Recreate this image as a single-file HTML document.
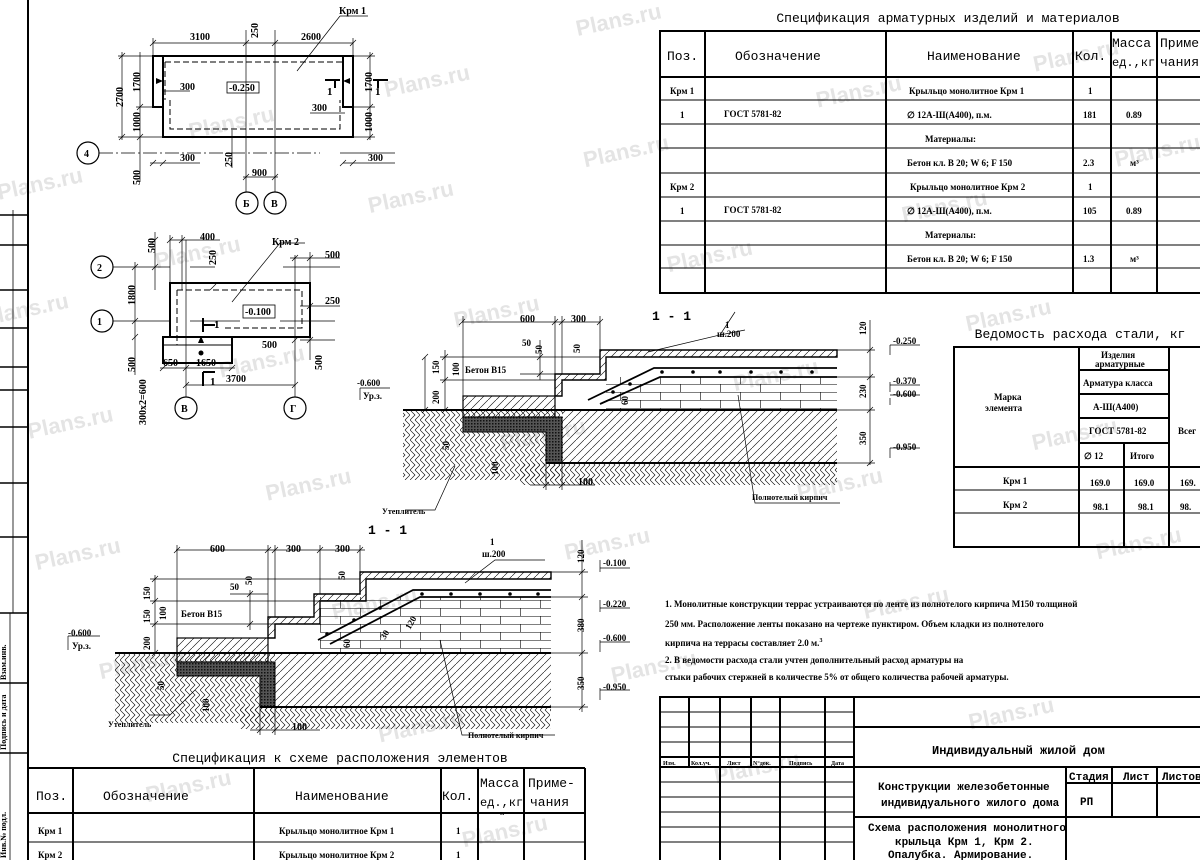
<!DOCTYPE html>
<html><head><meta charset="utf-8"><style>
html,body{margin:0;padding:0;background:#fff;width:1200px;height:860px;overflow:hidden;}
svg{display:block;}
.t{font-family:"Liberation Serif","DejaVu Serif",serif;font-weight:bold;fill:#000;}
.m{font-family:"Liberation Mono","DejaVu Sans Mono",monospace;fill:#000;}
.wm{font-family:"Liberation Sans",sans-serif;font-weight:bold;fill:#e4e4e4;font-size:22px;}
</style></head><body>
<svg width="1200" height="860" viewBox="0 0 1200 860" xmlns="http://www.w3.org/2000/svg">
<defs>
<pattern id="diag" width="8" height="8" patternUnits="userSpaceOnUse"><path d="M0,8 L8,0" stroke="#000" stroke-width="0.6"/></pattern>
<pattern id="ground" width="10" height="10" patternUnits="userSpaceOnUse"><path d="M0,10 L5,5 L0,0 M5,10 L10,5 L5,0" stroke="#000" stroke-width="0.6" fill="none"/></pattern>
<pattern id="dark" width="3" height="3" patternUnits="userSpaceOnUse"><rect width="3" height="3" fill="#555"/><rect width="1.5" height="1.5" fill="#111"/></pattern>
<pattern id="brick" width="40" height="16" patternUnits="userSpaceOnUse"><path d="M0,0.5 H40 M0,8.5 H40 M0.5,0 V8 M20.5,8 V16" stroke="#000" stroke-width="0.6" fill="none"/></pattern>
</defs>

<!-- watermarks -->
<g transform="rotate(-12 600 430)">
<text class="wm" x="60" y="80">Plans.ru</text><text class="wm" x="260" y="60">Plans.ru</text><text class="wm" x="460" y="60">Plans.ru</text><text class="wm" x="660" y="40">Plans.ru</text><text class="wm" x="900" y="40">Plans.ru</text><text class="wm" x="1120" y="40">Plans.ru</text>
<text class="wm" x="20" y="200">Plans.ru</text><text class="wm" x="200" y="180">Plans.ru</text><text class="wm" x="420" y="170">Plans.ru</text><text class="wm" x="640" y="170">Plans.ru</text><text class="wm" x="880" y="160">Plans.ru</text><text class="wm" x="1100" y="170">Plans.ru</text>
<text class="wm" x="40" y="320">Plans.ru</text><text class="wm" x="240" y="300">Plans.ru</text><text class="wm" x="480" y="300">Plans.ru</text><text class="wm" x="700" y="290">Plans.ru</text><text class="wm" x="940" y="290">Plans.ru</text><text class="wm" x="1160" y="280">Plans.ru</text>
<text class="wm" x="20" y="450">Plans.ru</text><text class="wm" x="260" y="430">Plans.ru</text><text class="wm" x="500" y="430">Plans.ru</text><text class="wm" x="740" y="420">Plans.ru</text><text class="wm" x="980" y="410">Plans.ru</text>
<text class="wm" x="60" y="570">Plans.ru</text><text class="wm" x="300" y="560">Plans.ru</text><text class="wm" x="540" y="550">Plans.ru</text><text class="wm" x="780" y="540">Plans.ru</text><text class="wm" x="1020" y="540">Plans.ru</text>
<text class="wm" x="80" y="700">Plans.ru</text><text class="wm" x="320" y="690">Plans.ru</text><text class="wm" x="560" y="680">Plans.ru</text><text class="wm" x="820" y="670">Plans.ru</text><text class="wm" x="1060" y="660">Plans.ru</text>
<text class="wm" x="120" y="820">Plans.ru</text><text class="wm" x="380" y="810">Plans.ru</text><text class="wm" x="640" y="800">Plans.ru</text><text class="wm" x="900" y="800">Plans.ru</text><text class="wm" x="1140" y="790">Plans.ru</text>
</g>

<!-- left frame / stamp -->
<g stroke="#000" fill="none">
<line x1="28" y1="0" x2="28" y2="860" stroke-width="2"/>
<line x1="13" y1="210" x2="13" y2="613" stroke-width="0.8"/>
<line x1="10" y1="613" x2="10" y2="860" stroke-width="0.8"/>
<g stroke-width="1.6">
<line x1="0" y1="215" x2="28" y2="215"/><line x1="0" y1="245" x2="28" y2="245"/><line x1="0" y1="290" x2="28" y2="290"/><line x1="0" y1="328" x2="28" y2="328"/><line x1="0" y1="367" x2="28" y2="367"/><line x1="0" y1="390" x2="28" y2="390"/><line x1="0" y1="427" x2="28" y2="427"/><line x1="0" y1="483" x2="28" y2="483"/><line x1="0" y1="537" x2="28" y2="537"/><line x1="0" y1="613" x2="28" y2="613"/><line x1="0" y1="683" x2="28" y2="683"/><line x1="0" y1="753" x2="28" y2="753"/>
</g></g>
<text class="t" font-size="8" transform="translate(6,680) rotate(-90)">Взам.инв.</text>
<text class="t" font-size="8" transform="translate(6,750) rotate(-90)">Подпись и дата</text>
<text class="t" font-size="8" transform="translate(6,858) rotate(-90)">Инв.№ подл.</text>

<!-- ================= PLAN 1 ================= -->
<g stroke="#000" fill="none">
<path d="M153,56 H353 V137 H163 V56" stroke-width="2"/>
<rect x="153" y="56" width="10" height="51" stroke-width="2"/>
<rect x="343" y="56" width="10" height="51" stroke-width="2"/>
<path d="M165,62 H343 M170,100 V129 H340 V100 M165,62 V100" stroke-dasharray="6,3" stroke-width="1"/>
<g stroke-width="0.7">
<line x1="153" y1="43" x2="353" y2="43"/><line x1="153" y1="38" x2="153" y2="56"/><line x1="246" y1="30" x2="246" y2="192"/><line x1="275" y1="30" x2="275" y2="192"/><line x1="353" y1="38" x2="353" y2="56"/>
<line x1="122" y1="52" x2="122" y2="140"/><line x1="118" y1="56" x2="153" y2="56"/><line x1="118" y1="137" x2="163" y2="137"/>
<line x1="140" y1="52" x2="140" y2="182"/><line x1="136" y1="107" x2="153" y2="107"/>
<line x1="370" y1="52" x2="370" y2="140"/><line x1="353" y1="107" x2="375" y2="107"/><line x1="353" y1="56" x2="375" y2="56"/><line x1="353" y1="137" x2="375" y2="137"/>
<line x1="99" y1="153" x2="320" y2="153" stroke-dasharray="14,3,2,3"/><line x1="340" y1="153" x2="395" y2="153"/>
<line x1="150" y1="163" x2="200" y2="163"/><line x1="343" y1="163" x2="395" y2="163"/>
<line x1="232" y1="130" x2="232" y2="168"/>
<line x1="243" y1="177" x2="278" y2="177"/>
<line x1="162" y1="91" x2="190" y2="91"/><line x1="310" y1="113" x2="345" y2="113"/>
<line x1="297" y1="71" x2="340" y2="16"/><line x1="340" y1="16" x2="368" y2="16"/>
<path d="M150,46 L156,40 M243,46 L249,40 M272,46 L278,40 M350,46 L356,40 M119,59 L125,53 M119,140 L125,134 M137,110 L143,104 M137,140 L143,134 M367,59 L373,53 M367,110 L373,104 M367,140 L373,134 M150,166 L156,160 M160,166 L166,160 M340,166 L346,160 M350,166 L356,160 M243,180 L249,174 M272,180 L278,174"/>
</g>
<circle cx="88" cy="153" r="11" stroke-width="1.2"/><circle cx="247" cy="203" r="11" stroke-width="1.2"/><circle cx="275" cy="203" r="11" stroke-width="1.2"/>
<rect x="227" y="82" width="32" height="11" stroke-width="0.8"/>
<path d="M325,80 H340 M335,80 V88 M373,80 H388 M378,80 V88" stroke-width="2"/>
</g>
<polygon points="156,78 163,81 156,84" fill="#000"/><polygon points="350,78 343,81 350,84" fill="#000"/>
<g class="t" font-size="10">
<text x="339" y="14">Крм 1</text><text x="190" y="40">3100</text><text x="301" y="40">2600</text>
<text x="229" y="91">-0.250</text><text x="180" y="90">300</text><text x="312" y="111">300</text>
<text x="180" y="161">300</text><text x="368" y="161">300</text><text x="252" y="176">900</text>
<text x="84" y="157">4</text><text x="243" y="207">Б</text><text x="271" y="207">В</text>
<text x="327" y="95" font-size="11">1</text><text x="375" y="95" font-size="11">1</text>
<text transform="translate(123,107) rotate(-90)">2700</text>
<text transform="translate(140,92) rotate(-90)">1700</text><text transform="translate(140,132) rotate(-90)">1000</text>
<text transform="translate(372,92) rotate(-90)">1700</text><text transform="translate(372,132) rotate(-90)">1000</text>
<text transform="translate(258,38) rotate(-90)">250</text><text transform="translate(232,167) rotate(-90)">250</text>
<text transform="translate(140,185) rotate(-90)">500</text>
</g>

<!-- ================= PLAN 2 ================= -->
<g stroke="#000" fill="none">
<rect x="170" y="283" width="140" height="54" stroke-width="2"/>
<rect x="163" y="337" width="69" height="26" stroke-width="2"/>
<line x1="163" y1="345" x2="232" y2="345" stroke-width="1"/>
<path d="M177,290 H302 V328 H225 M177,290 V345" stroke-dasharray="6,3" stroke-width="1"/>
<rect x="243" y="305" width="32" height="13" stroke-width="0.8"/>
<g stroke-width="0.7">
<line x1="113" y1="267" x2="170" y2="267"/><line x1="190" y1="267" x2="215" y2="267"/><line x1="283" y1="267" x2="340" y2="267"/>
<line x1="113" y1="321" x2="170" y2="321"/><line x1="190" y1="321" x2="240" y2="321"/><line x1="280" y1="321" x2="335" y2="321"/>
<line x1="186" y1="240" x2="186" y2="397"/><line x1="295" y1="255" x2="295" y2="397"/>
<line x1="135" y1="262" x2="135" y2="375"/><line x1="155" y1="232" x2="155" y2="290"/>
<line x1="170" y1="240" x2="220" y2="240"/><line x1="170" y1="235" x2="170" y2="283"/><line x1="182" y1="235" x2="182" y2="290"/>
<line x1="290" y1="258" x2="340" y2="258"/><line x1="310" y1="252" x2="310" y2="360"/>
<line x1="300" y1="306" x2="340" y2="306"/><line x1="300" y1="340" x2="335" y2="340"/>
<line x1="160" y1="368" x2="235" y2="368"/><line x1="186" y1="385" x2="295" y2="385"/>
<line x1="232" y1="302" x2="280" y2="243"/><line x1="280" y1="243" x2="305" y2="243"/>
<path d="M132,270 L138,264 M132,324 L138,318 M132,340 L138,334 M152,270 L158,264 M152,243 L158,237 M167,243 L173,237 M179,243 L185,237 M292,261 L298,255 M307,261 L313,255 M307,309 L313,303 M292,343 L298,337 M307,343 L313,337 M160,371 L166,365 M183,371 L189,365 M229,371 L235,365 M183,388 L189,382 M292,388 L298,382 M210,290 L216,284"/>
</g>
<circle cx="102" cy="267" r="11" stroke-width="1.2"/><circle cx="102" cy="321" r="11" stroke-width="1.2"/>
<circle cx="186" cy="408" r="11" stroke-width="1.2"/><circle cx="295" cy="408" r="11" stroke-width="1.2"/>
<path d="M203,318 V332 M203,325 H215 M203,372 V386 M203,372 H215" stroke-width="2"/>
</g>
<polygon points="198,343 201,336 204,343" fill="#000"/><circle cx="201" cy="353" r="2.5" fill="#000"/>
<g class="t" font-size="10">
<text x="200" y="240">400</text><text x="272" y="245">Крм 2</text><text x="325" y="258">500</text><text x="325" y="304">250</text>
<text x="245" y="315">-0.100</text><text x="262" y="348">500</text><text x="163" y="366">650</text><text x="196" y="366">1650</text><text x="226" y="382">3700</text>
<text x="97" y="271">2</text><text x="97" y="325">1</text><text x="181" y="412">В</text><text x="290" y="412">Г</text>
<text x="214" y="328" font-size="11">1</text><text x="210" y="385" font-size="11">1</text>
<text transform="translate(155,253) rotate(-90)">500</text><text transform="translate(216,265) rotate(-90)">250</text>
<text transform="translate(135,305) rotate(-90)">1800</text><text transform="translate(135,372) rotate(-90)">500</text>
<text transform="translate(322,370) rotate(-90)">500</text><text transform="translate(146,425) rotate(-90)">300x2=600</text>
</g>

<!-- ================= SECTION 1-1 (upper) ================= -->
<g stroke="#000">
<rect x="403" y="410" width="160" height="70" fill="url(#ground)" stroke="none"/>
<rect x="520" y="463" width="317" height="22" fill="url(#ground)" stroke="none"/>
<rect x="562" y="410" width="275" height="53" fill="url(#diag)" stroke="none"/>
<rect x="463" y="396" width="92" height="21" fill="url(#diag)" stroke-width="1.2"/>
<path d="M463,417 H562 V463 H546 V432 H463 Z" fill="url(#dark)" stroke-width="1"/>
<rect x="606" y="377" width="231" height="33" fill="url(#brick)" stroke="none"/>
<path d="M555,396 V374 H600 V350 H837 V357 H606 V380 H562 V396 Z" fill="url(#diag)" stroke-width="1.4"/>
<line x1="403" y1="410" x2="837" y2="410" stroke-width="2"/>
<line x1="546" y1="463" x2="837" y2="463" stroke-width="2"/>
<path d="M588,400 L654,368 H837 M600,404 L660,377 H837" fill="none" stroke-width="1.8"/>
<g fill="#000" stroke="none"><circle cx="662" cy="372" r="1.8"/><circle cx="693" cy="372" r="1.8"/><circle cx="720" cy="372" r="1.8"/><circle cx="751" cy="372" r="1.8"/><circle cx="781" cy="372" r="1.8"/><circle cx="812" cy="372" r="1.8"/><circle cx="613" cy="392" r="1.8"/><circle cx="630" cy="384" r="1.8"/></g>
<g fill="none" stroke-width="0.7">
<line x1="462" y1="322" x2="562" y2="322"/><line x1="562" y1="322" x2="600" y2="322"/><line x1="463" y1="316" x2="463" y2="396"/><line x1="555" y1="316" x2="555" y2="374"/><line x1="562" y1="316" x2="562" y2="374"/><line x1="600" y1="316" x2="600" y2="350"/>
<line x1="440" y1="357" x2="600" y2="357"/><line x1="440" y1="380" x2="555" y2="380"/><line x1="440" y1="410" x2="460" y2="410"/>
<line x1="445" y1="350" x2="445" y2="410"/><line x1="425" y1="357" x2="425" y2="410"/>
<line x1="520" y1="374" x2="555" y2="374"/><line x1="540" y1="340" x2="540" y2="380"/>
<line x1="870" y1="320" x2="870" y2="465"/><line x1="837" y1="350" x2="875" y2="350"/><line x1="837" y1="377" x2="875" y2="377"/><line x1="837" y1="410" x2="875" y2="410"/><line x1="837" y1="463" x2="875" y2="463"/>
<line x1="546" y1="463" x2="546" y2="490"/><line x1="562" y1="463" x2="562" y2="490"/><line x1="530" y1="485" x2="595" y2="485"/>
<path d="M890,345 V355 M890,345 H920 M890,382 V392 M890,385 H920 M890,398 V405 M890,395 H920 M890,448 V458 M890,448 H920 M360,388 V400 M360,388 H390"/>
<path d="M459,325 L465,319 M552,325 L558,319 M559,325 L565,319 M597,325 L603,319 M442,360 L448,354 M442,383 L448,377 M442,413 L448,407 M422,360 L428,354 M422,413 L428,407 M867,353 L873,347 M867,380 L873,374 M867,413 L873,407 M867,466 L873,460 M543,488 L549,482 M559,488 L565,482 M537,377 L543,371 M537,360 L543,354"/>
<path d="M455,466 L435,510 H405 M738,395 L755,503 H840 M648,352 L720,335 L735,312 M720,335 L745,330"/>
</g></g>
<g class="t" font-size="9">
<text x="520" y="322" font-size="10">600</text><text x="571" y="322" font-size="10">300</text>
<text x="652" y="320" class="m" font-size="13" font-weight="bold">1 - 1</text>
<text x="725" y="328">1</text><text x="717" y="337">ш.200</text>
<text x="465" y="373">Бетон В15</text><text x="522" y="346">50</text>
<text x="357" y="386">-0.600</text><text x="363" y="399">Ур.з.</text>
<text x="382" y="514" font-size="8">Утеплитель</text><text x="752" y="500" font-size="8">Полнотелый кирпич</text>
<text x="578" y="485" font-size="10">100</text>
<text x="893" y="344">-0.250</text><text x="893" y="384">-0.370</text><text x="893" y="397">-0.600</text><text x="893" y="450">-0.950</text>
<text transform="translate(439,374) rotate(-90)">150</text><text transform="translate(439,404) rotate(-90)">200</text>
<text transform="translate(459,376) rotate(-90)">100</text><text transform="translate(542,354) rotate(-90)">50</text><text transform="translate(580,353) rotate(-90)">50</text>
<text transform="translate(449,450) rotate(-90)">50</text><text transform="translate(498,475) rotate(-90)">100</text>
<text transform="translate(628,405) rotate(-90)">60</text>
<text transform="translate(866,335) rotate(-90)">120</text><text transform="translate(866,398) rotate(-90)">230</text><text transform="translate(866,445) rotate(-90)">350</text>
</g>

<!-- ================= SECTION 1-1 (lower) ================= -->
<g stroke="#000">
<rect x="115" y="653" width="160" height="70" fill="url(#ground)" stroke="none"/>
<rect x="240" y="707" width="311" height="22" fill="url(#ground)" stroke="none"/>
<rect x="275" y="653" width="276" height="54" fill="url(#diag)" stroke="none"/>
<rect x="177" y="638" width="91" height="24" fill="url(#diag)" stroke-width="1.2"/>
<path d="M177,662 H275 V707 H260 V676 H177 Z" fill="url(#dark)" stroke-width="1"/>
<rect x="320" y="597" width="231" height="56" fill="url(#brick)" stroke="none"/>
<path d="M268,638 V617 H314 V594 H360 V572 H551 V579 H366 V601 H320 V624 H275 V638 Z" fill="url(#diag)" stroke-width="1.4"/>
<line x1="115" y1="653" x2="551" y2="653" stroke-width="2"/>
<line x1="260" y1="707" x2="551" y2="707" stroke-width="2"/>
<path d="M318,640 L413,590 H551 M330,644 L420,597 H551" fill="none" stroke-width="1.8"/>
<g fill="#000" stroke="none"><circle cx="422" cy="594" r="1.8"/><circle cx="451" cy="594" r="1.8"/><circle cx="480" cy="594" r="1.8"/><circle cx="510" cy="594" r="1.8"/><circle cx="538" cy="594" r="1.8"/><circle cx="327" cy="634" r="1.8"/><circle cx="354" cy="620" r="1.8"/><circle cx="380" cy="608" r="1.8"/></g>
<g fill="none" stroke-width="0.7">
<line x1="176" y1="550" x2="365" y2="550"/><line x1="177" y1="545" x2="177" y2="638"/><line x1="268" y1="545" x2="268" y2="617"/><line x1="275" y1="545" x2="275" y2="617"/><line x1="320" y1="545" x2="320" y2="594"/><line x1="360" y1="545" x2="360" y2="572"/>
<line x1="150" y1="579" x2="360" y2="579"/><line x1="150" y1="601" x2="320" y2="601"/><line x1="150" y1="624" x2="275" y2="624"/>
<line x1="155" y1="575" x2="155" y2="653"/><line x1="250" y1="590" x2="250" y2="630"/><line x1="230" y1="594" x2="268" y2="594"/>
<line x1="582" y1="540" x2="582" y2="712"/><line x1="551" y1="572" x2="588" y2="572"/><line x1="551" y1="597" x2="588" y2="597"/><line x1="551" y1="653" x2="588" y2="653"/><line x1="551" y1="707" x2="588" y2="707"/>
<line x1="260" y1="707" x2="260" y2="735"/><line x1="275" y1="707" x2="275" y2="735"/><line x1="250" y1="730" x2="320" y2="730"/>
<path d="M600,560 V572 M600,568 H630 M600,600 V612 M600,608 H630 M600,640 V652 M600,642 H630 M600,688 V700 M600,690 H630 M68,636 V650 M68,636 H100"/>
<path d="M174,553 L180,547 M265,553 L271,547 M272,553 L278,547 M317,553 L323,547 M357,553 L363,547 M152,582 L158,576 M152,604 L158,598 M152,627 L158,621 M152,656 L158,650 M579,575 L585,569 M579,600 L585,594 M579,656 L585,650 M579,710 L585,704 M257,733 L263,727 M272,733 L278,727 M247,597 L253,591 M247,627 L253,621"/>
<path d="M195,690 L170,715 H150 M440,640 L462,735 H555 M465,583 L495,560 L545,560"/>
</g></g>
<g class="t" font-size="9">
<text x="210" y="552" font-size="10">600</text><text x="286" y="552" font-size="10">300</text><text x="335" y="552" font-size="10">300</text>
<text x="368" y="534" class="m" font-size="13" font-weight="bold">1 - 1</text>
<text x="490" y="545">1</text><text x="482" y="557">ш.200</text>
<text x="181" y="617">Бетон В15</text><text x="230" y="590">50</text>
<text x="68" y="636">-0.600</text><text x="72" y="649">Ур.з.</text>
<text x="108" y="727" font-size="8">Утеплитель</text><text x="468" y="738" font-size="8">Полнотелый кирпич</text>
<text x="292" y="730" font-size="10">100</text>
<text x="603" y="566">-0.100</text><text x="603" y="607">-0.220</text><text x="603" y="641">-0.600</text><text x="603" y="690">-0.950</text>
<text transform="translate(150,600) rotate(-90)">150</text><text transform="translate(150,623) rotate(-90)">150</text><text transform="translate(150,650) rotate(-90)">200</text>
<text transform="translate(166,620) rotate(-90)">100</text><text transform="translate(252,585) rotate(-90)">50</text><text transform="translate(345,580) rotate(-90)">50</text>
<text transform="translate(164,690) rotate(-90)">50</text><text transform="translate(209,712) rotate(-90)">100</text>
<text transform="translate(350,648) rotate(-90)">60</text><text transform="translate(385,640) rotate(-60)">30</text><text transform="translate(410,630) rotate(-60)">120</text>
<text transform="translate(584,563) rotate(-90)">120</text><text transform="translate(584,632) rotate(-90)">380</text><text transform="translate(584,690) rotate(-90)">350</text>
</g>

<!-- ================= SPEC TABLE TOP ================= -->
<text x="948" y="22" text-anchor="middle" class="m" font-size="13">Спецификация арматурных изделий и материалов</text>
<g stroke="#000" fill="none">
<path d="M1200,31 H660 V293 H1200" stroke-width="2"/>
<line x1="660" y1="77" x2="1200" y2="77" stroke-width="2"/>
<g stroke-width="2"><line x1="705" y1="31" x2="705" y2="293"/><line x1="886" y1="31" x2="886" y2="293"/><line x1="1073" y1="31" x2="1073" y2="293"/><line x1="1111" y1="31" x2="1111" y2="293"/><line x1="1157" y1="31" x2="1157" y2="293"/></g>
<g stroke-width="1"><line x1="660" y1="100" x2="1200" y2="100"/><line x1="660" y1="124" x2="1200" y2="124"/><line x1="660" y1="148" x2="1200" y2="148"/><line x1="660" y1="173" x2="1200" y2="173"/><line x1="660" y1="197" x2="1200" y2="197"/><line x1="660" y1="221" x2="1200" y2="221"/><line x1="660" y1="245" x2="1200" y2="245"/><line x1="660" y1="268" x2="1200" y2="268"/></g>
</g>
<g class="m" font-size="13">
<text x="667" y="60">Поз.</text><text x="735" y="60">Обозначение</text><text x="927" y="60">Наименование</text><text x="1075" y="60">Кол.</text>
<text x="1112" y="47">Масса</text><text x="1112" y="66" font-size="12">ед.,кг</text><text x="1160" y="47">Приме</text><text x="1160" y="66">чания</text>
</g>
<g class="t" font-size="9">
<text x="670" y="94">Крм 1</text><text x="909" y="94">Крыльцо монолитное Крм 1</text><text x="1088" y="94">1</text>
<text x="680" y="118">1</text><text x="724" y="117">ГОСТ 5781-82</text><text x="907" y="118">∅ 12А-Ш(А400), п.м.</text><text x="1083" y="118">181</text><text x="1126" y="118">0.89</text>
<text x="925" y="142">Материалы:</text>
<text x="907" y="166">Бетон кл. В 20; W 6; F 150</text><text x="1083" y="166">2.3</text><text x="1130" y="166">м³</text>
<text x="670" y="190">Крм 2</text><text x="910" y="190">Крыльцо монолитное Крм 2</text><text x="1088" y="190">1</text>
<text x="680" y="214">1</text><text x="724" y="213">ГОСТ 5781-82</text><text x="907" y="214">∅ 12А-Ш(А400), п.м.</text><text x="1083" y="214">105</text><text x="1126" y="214">0.89</text>
<text x="925" y="238">Материалы:</text>
<text x="907" y="262">Бетон кл. В 20; W 6; F 150</text><text x="1083" y="262">1.3</text><text x="1130" y="262">м³</text>
</g>

<!-- ================= STEEL TABLE ================= -->
<text x="1080" y="338" text-anchor="middle" class="m" font-size="13">Ведомость расхода стали, кг</text>
<g stroke="#000" fill="none">
<path d="M1200,347 H954 V547 H1200" stroke-width="2"/>
<g stroke-width="2"><line x1="1079" y1="347" x2="1079" y2="547"/><line x1="1169" y1="347" x2="1169" y2="547"/><line x1="1124" y1="443" x2="1124" y2="547"/><line x1="954" y1="467" x2="1200" y2="467"/>
<line x1="1079" y1="370" x2="1169" y2="370"/><line x1="1079" y1="394" x2="1169" y2="394"/><line x1="1079" y1="418" x2="1169" y2="418"/><line x1="1079" y1="443" x2="1169" y2="443"/></g>
<g stroke-width="1"><line x1="954" y1="490" x2="1200" y2="490"/><line x1="954" y1="513" x2="1200" y2="513"/></g>
</g>
<g class="t" font-size="9">
<text x="1101" y="358">Изделия</text><text x="1095" y="367">арматурные</text>
<text x="1083" y="386">Арматура класса</text><text x="1093" y="410">А-Ш(А400)</text><text x="1089" y="434">ГОСТ 5781-82</text>
<text x="1084" y="459">∅ 12</text><text x="1130" y="459">Итого</text>
<text x="994" y="400">Марка</text><text x="985" y="411">элемента</text><text x="1178" y="434">Всег</text>
<text x="1003" y="484">Крм 1</text><text x="1090" y="486">169.0</text><text x="1134" y="486">169.0</text><text x="1180" y="486">169.</text>
<text x="1003" y="508">Крм 2</text><text x="1093" y="510">98.1</text><text x="1138" y="510">98.1</text><text x="1180" y="510">98.</text>
</g>

<!-- notes -->
<g class="t" font-size="9">
<text x="665" y="607">1. Монолитные конструкции террас устраиваются по ленте из полнотелого кирпича М150 толщиной</text>
<text x="665" y="627">250 мм. Расположение ленты показано на чертеже пунктиром. Объем кладки из полнотелого</text>
<text x="665" y="646">кирпича на террасы составляет 2.0 м.<tspan font-size="6" dy="-4">3</tspan></text>
<text x="665" y="663">2. В ведомости расхода стали учтен дополнительный расход арматуры на</text>
<text x="665" y="680">стыки рабочих стержней в количестве 5% от общего количества рабочей арматуры.</text>
</g>

<!-- ================= TITLE BLOCK ================= -->
<g stroke="#000" fill="none">
<path d="M1200,697 H660 V860" stroke-width="2"/>
<line x1="854" y1="697" x2="854" y2="860" stroke-width="2"/>
<g stroke-width="2"><line x1="689" y1="697" x2="689" y2="767"/><line x1="720" y1="697" x2="720" y2="860"/><line x1="751" y1="697" x2="751" y2="767"/><line x1="780" y1="697" x2="780" y2="860"/><line x1="825" y1="697" x2="825" y2="860"/>
<line x1="660" y1="757" x2="854" y2="757"/><line x1="660" y1="767" x2="854" y2="767"/>
<line x1="854" y1="727" x2="1200" y2="727"/><line x1="854" y1="767" x2="1200" y2="767"/><line x1="854" y1="817" x2="1200" y2="817"/>
<line x1="1066" y1="767" x2="1066" y2="860"/><line x1="1112" y1="767" x2="1112" y2="817"/><line x1="1157" y1="767" x2="1157" y2="817"/><line x1="1066" y1="783" x2="1200" y2="783"/></g>
<g stroke-width="1"><line x1="660" y1="712" x2="854" y2="712"/><line x1="660" y1="727" x2="854" y2="727"/><line x1="660" y1="742" x2="854" y2="742"/><line x1="660" y1="782" x2="854" y2="782"/><line x1="660" y1="797" x2="854" y2="797"/><line x1="660" y1="812" x2="854" y2="812"/><line x1="660" y1="827" x2="854" y2="827"/><line x1="660" y1="842" x2="854" y2="842"/></g>
</g>
<g class="t" font-size="6">
<text x="663" y="765">Изм.</text><text x="691" y="765">Кол.уч.</text><text x="727" y="765">Лист</text><text x="753" y="765">N°док.</text><text x="789" y="765">Подпись</text><text x="831" y="765">Дата</text>
</g>
<g class="m" font-size="11" font-weight="bold">
<text x="932" y="754" font-size="12">Индивидуальный жилой дом</text>
<text x="1069" y="780">Стадия</text><text x="1123" y="780">Лист</text><text x="1162" y="780">Листов</text>
<text x="1080" y="805">РП</text>
<text x="878" y="790">Конструкции железобетонные</text>
<text x="881" y="806">индивидуального жилого дома</text>
<text x="868" y="831">Схема расположения монолитного</text>
<text x="895" y="845">крыльца Крм 1, Крм 2.</text>
<text x="888" y="858">Опалубка. Армирование.</text>
</g>

<!-- ================= BOTTOM SPEC ================= -->
<text x="340" y="762" text-anchor="middle" class="m" font-size="13">Спецификация к схеме расположения элементов</text>
<g stroke="#000" fill="none">
<line x1="28" y1="768" x2="585" y2="768" stroke-width="2"/><line x1="28" y1="813" x2="585" y2="813" stroke-width="2"/>
<line x1="585" y1="768" x2="585" y2="860" stroke-width="2"/>
<g stroke-width="2"><line x1="73" y1="768" x2="73" y2="860"/><line x1="254" y1="768" x2="254" y2="860"/><line x1="441" y1="768" x2="441" y2="860"/><line x1="478" y1="768" x2="478" y2="860"/><line x1="524" y1="768" x2="524" y2="860"/></g>
<line x1="28" y1="842" x2="585" y2="842" stroke-width="1"/>
</g>
<g class="m" font-size="13">
<text x="36" y="800">Поз.</text><text x="103" y="800">Обозначение</text><text x="295" y="800">Наименование</text><text x="442" y="800">Кол.</text>
<text x="480" y="787">Масса</text><text x="480" y="806" font-size="12">ед.,кг</text><text x="528" y="787">Приме-</text><text x="530" y="806">чания</text>
</g>
<text x="500" y="815" class="t" font-size="6">м</text>
<g class="t" font-size="9">
<text x="38" y="834">Крм 1</text><text x="279" y="834">Крыльцо монолитное Крм 1</text><text x="456" y="834">1</text>
<text x="38" y="858">Крм 2</text><text x="279" y="858">Крыльцо монолитное Крм 2</text><text x="456" y="858">1</text>
</g>
</svg>
</body></html>
